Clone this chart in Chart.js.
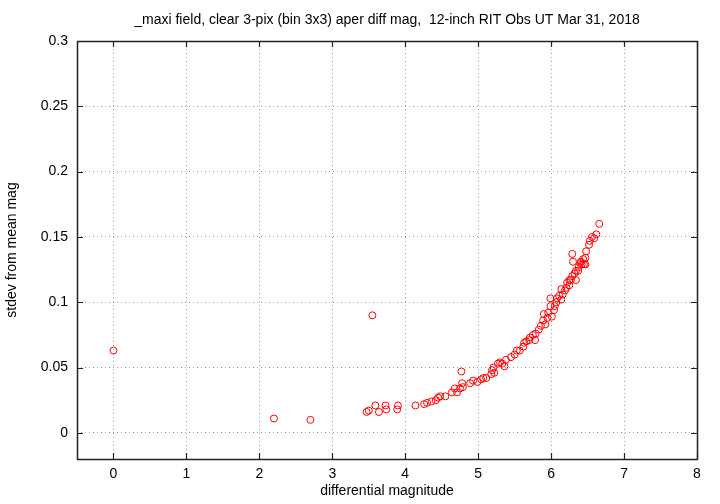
<html>
<head>
<script src="https://cdn.jsdelivr.net/npm/chart.js@4.4.0/dist/chart.umd.min.js"></script>
<style>
	body { margin: 0; background: #fff; }
	#wrap { width: 720px; height: 504px; }
</style>
</head>
<body>
<div id="wrap"><canvas id="myChart" width="720" height="504"></canvas></div>
<script>
	// differential magnitude / stdev pairs
	var diffMag = [0.00, 2.20, 2.70, 3.55, 3.47, 3.50, 3.59, 3.64, 3.73, 3.74, 3.90, 3.89,
		4.14, 4.26, 4.30, 4.36, 4.42, 4.45, 4.48, 4.55, 4.64, 4.71, 4.68, 4.77, 4.75, 4.79,
		4.78, 4.89, 4.93, 4.99, 5.04, 5.07, 5.11, 5.18, 5.19, 5.21, 5.22, 5.27, 5.30, 5.33,
		5.36, 5.38, 5.45, 5.50, 5.53, 5.57, 5.62, 5.63, 5.66, 5.70, 5.71, 5.75, 5.78, 5.79,
		5.83, 5.86, 5.89, 5.90, 5.92, 5.95, 5.96, 5.99, 5.99, 6.01, 6.04, 6.05, 6.07, 6.08,
		6.11, 6.14, 6.14, 6.16, 6.19, 6.21, 6.22, 6.25, 6.25, 6.27, 6.29, 6.29, 6.30, 6.32,
		6.34, 6.34, 6.37, 6.38, 6.40, 6.41, 6.42, 6.44, 6.45, 6.47, 6.47, 6.48, 6.52, 6.53,
		6.56, 6.62, 6.66, 6.59];
	var stdev = [0.063, 0.011, 0.010, 0.090, 0.016, 0.017, 0.021, 0.016, 0.021, 0.018, 0.021, 0.018,
		0.021, 0.022, 0.023, 0.024, 0.025, 0.027, 0.028, 0.028, 0.031, 0.031, 0.034, 0.047, 0.034, 0.035,
		0.038, 0.038, 0.040, 0.039, 0.041, 0.042, 0.042, 0.045, 0.048, 0.050, 0.046, 0.053, 0.054, 0.053,
		0.051, 0.056, 0.058, 0.060, 0.063, 0.063, 0.066, 0.069, 0.070, 0.071, 0.073, 0.075, 0.071, 0.076,
		0.079, 0.082, 0.086, 0.091, 0.083, 0.088, 0.092, 0.097, 0.103, 0.089, 0.094, 0.097, 0.100, 0.103,
		0.105, 0.102, 0.110, 0.106, 0.109, 0.111, 0.115, 0.113, 0.117, 0.117, 0.120, 0.137, 0.131, 0.122,
		0.124, 0.117, 0.124, 0.127, 0.130, 0.131, 0.129, 0.133, 0.129, 0.134, 0.129, 0.139, 0.144, 0.147,
		0.150, 0.152, 0.160, 0.149];
	var xTicks = [0, 1, 2, 3, 4, 5, 6, 7, 8];
	var yTicks = [0, 0.05, 0.1, 0.15, 0.2, 0.25, 0.3];
	var titleText = '_maxi field, clear 3-pix (bin 3x3) aper diff mag,  12-inch RIT Obs UT Mar 31, 2018';

	var points = [];
	for (var i = 0; i < diffMag.length; ++i) {
		points.push({x: diffMag[i], y: stdev[i]});
	}

	var font = "'Liberation Sans', Arial, sans-serif";
	Chart.defaults.font.family = font;
	Chart.defaults.color = '#000';

	// gnuplot style frame with inward ticks on all four sides, title centred on the plot
	var framePlugin = {
		id: 'frame',
		afterDraw: function(chart) {
			var c = chart.ctx, a = chart.chartArea;
			var xs = chart.scales.x, ys = chart.scales.y;
			c.save();
			c.strokeStyle = '#222';
			c.lineWidth = 1.2;
			c.beginPath();
			xs.ticks.forEach(function(t) {
				var px = Math.round(xs.getPixelForValue(t.value)) + 0.5;
				c.moveTo(px, a.bottom); c.lineTo(px, a.bottom - 6);
				c.moveTo(px, a.top); c.lineTo(px, a.top + 6);
			});
			ys.ticks.forEach(function(t) {
				var py = Math.round(ys.getPixelForValue(t.value)) + 0.5;
				c.moveTo(a.left, py); c.lineTo(a.left + 6, py);
				c.moveTo(a.right, py); c.lineTo(a.right - 6, py);
			});
			c.stroke();
			c.lineWidth = 1.5;
			c.strokeRect(Math.round(a.left) + 0.5, Math.round(a.top) + 0.5,
				Math.round(a.right - a.left), Math.round(a.bottom - a.top));
			c.fillStyle = '#000';
			c.font = '14px ' + font;
			c.textAlign = 'center';
			c.textBaseline = 'middle';
			c.fillText(titleText, (a.left + a.right) / 2, 20);
			c.restore();
		}
	};

	var ctx = document.getElementById('myChart').getContext('2d');
	var chart = new Chart(ctx, {
		type: 'scatter',
		data: {
			datasets: [{
				data: points,
				borderColor: 'rgb(255, 0, 0)',
				backgroundColor: 'rgba(0,0,0,0)',
				borderWidth: 1,
				pointRadius: 3.5,
				pointHoverRadius: 3.5
			}]
		},
		options: {
			responsive: false,
			animation: false,
			layout: { padding: { left: 0, right: 23, top: 41, bottom: 0 } },
			plugins: {
				legend: { display: false },
				tooltip: { enabled: false },
				title: { display: false }
			},
			scales: {
				x: {
					type: 'linear',
					min: -0.5,
					max: 8,
					afterBuildTicks: function(s) { s.ticks = xTicks.map(function(v) { return {value: v}; }); },
					afterFit: function(s) { s.height = 45; },
					border: { display: false, dash: [1, 3] },
					grid: { color: '#a0a0a0', lineWidth: 1, drawTicks: false },
					ticks: { font: { size: 14 }, padding: 7, maxRotation: 0, callback: function(v) { return v; } },
					title: { display: true, text: 'differential magnitude', font: { size: 14 }, padding: { top: 3 } }
				},
				y: {
					type: 'linear',
					min: -0.02,
					max: 0.3,
					afterBuildTicks: function(s) { s.ticks = yTicks.map(function(v) { return {value: v}; }); },
					afterFit: function(s) { s.width = 77; },
					border: { display: false, dash: [1, 3] },
					grid: { color: '#a0a0a0', lineWidth: 1, drawTicks: false },
					ticks: { font: { size: 14 }, padding: 9, callback: function(v) { return v; } },
					title: { display: true, text: 'stdev from mean mag', font: { size: 14 }, padding: { bottom: 6 } }
				}
			}
		},
		plugins: [framePlugin]
	});
</script>
</body>
</html>
